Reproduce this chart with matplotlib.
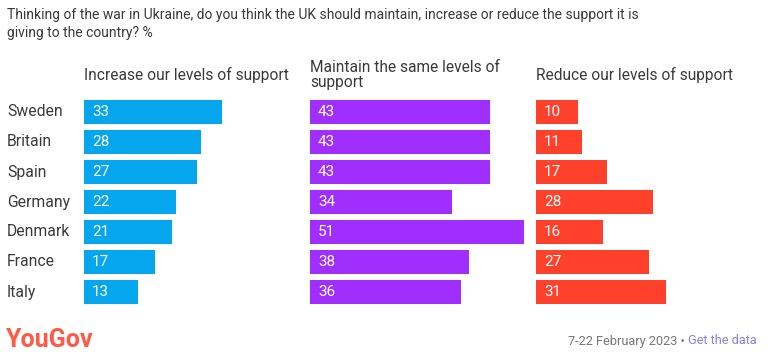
import matplotlib.pyplot as plt

countries = ['Sweden', 'Britain', 'Spain', 'Germany', 'Denmark', 'France', 'Italy']
increase = [33, 28, 27, 22, 21, 17, 13]
maintain = [43, 43, 43, 34, 51, 38, 36]
reduce = [10, 11, 17, 28, 16, 27, 31]
headers = ['Increase our levels of support', 'Maintain the same levels of\nsupport',
           'Reduce our levels of support']
colors = ['#06a6ee', '#a02ffd', '#ff412c']

plt.rcParams['font.family'] = ['Roboto', 'DejaVu Sans']

W, H = 770, 360
fig = plt.figure(figsize=(W / 100, H / 100), dpi=100)

px_per_unit = 4.19
panel_w = 220
lefts = [84, 310, 536]
top, row_h = 97, 30
n = len(countries)

fig.text(7 / W, 1 - 8 / H,
         'Thinking of the war in Ukraine, do you think the UK should maintain, increase or reduce the support it is\ngiving to the country? %',
         ha='left', va='top', fontsize=10.0, color='#3a3a3a', linespacing=1.4)

for i, (vals, head, col) in enumerate(zip([increase, maintain, reduce], headers, colors)):
    ax = fig.add_axes([lefts[i] / W, 1 - (top + n * row_h) / H, panel_w / W, n * row_h / H])
    ax.barh(range(n), vals, height=0.8, color=col)
    for j, v in enumerate(vals):
        ax.text(8 / px_per_unit, j, str(v), color='white', va='center', ha='left', fontsize=11)
    ax.set_xlim(0, panel_w / px_per_unit)
    ax.set_ylim(n - 0.5, -0.5)
    ax.axis('off')
    fig.text(lefts[i] / W, 1 - 75 / H, head, ha='left', va='center', fontsize=11.2,
             color='#3a3a3a', linespacing=1.05)

for j, c in enumerate(countries):
    fig.text(7 / W, 1 - (top + row_h * j + row_h / 2) / H, c, ha='left', va='center',
             fontsize=11.3, color='#3a3a3a')

fig.text(6 / W, 1 - 340 / H, 'YouGov', ha='left', va='center', fontsize=18,
         fontweight='bold', color='#ff5a45')
t = fig.text(757 / W, 1 - 341 / H, 'Get the data', ha='right', va='center', fontsize=9.2,
             color='#8b80e8')
fig.canvas.draw()
bb = t.get_window_extent()
fig.text(bb.x0 / W, 1 - 341 / H, '7-22 February 2023 \u2022 ', ha='right', va='center',
         fontsize=9.2, color='#777777')

fig.savefig('out.png', dpi=100)
